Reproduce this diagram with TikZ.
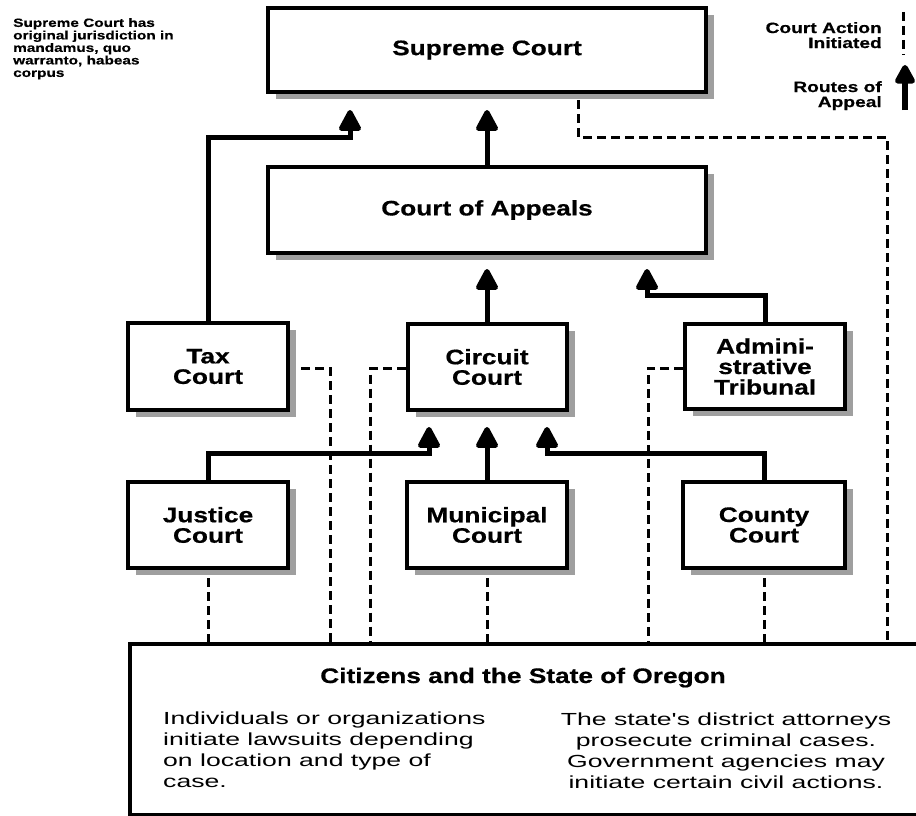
\documentclass[tikz,border=0pt]{standalone}
\usepackage{fontspec}
\setmainfont{Liberation Sans}
\newfontfamily\boxfam[FakeStretch=1.25,BoldFeatures={FakeBold=0.6}]{Liberation Sans}
\newfontfamily\notefam[FakeStretch=1.28,BoldFeatures={FakeBold=0.5}]{Liberation Sans}
\newfontfamily\bodyfam[FakeStretch=1.52]{Liberation Sans}
\usetikzlibrary{arrows.meta,shadows}
\tikzset{
  court/.style={draw, line width=4pt, fill=white, align=center, inner sep=0pt,
    font=\boxfam\bfseries\fontsize{21}{20.5}\selectfont,
    drop shadow={shadow xshift=8pt, shadow yshift=-7pt, fill=gray!75, opacity=1}},
  appeal/.style={line width=5pt, -{Triangle[width=24pt,length=24pt,round]}},
  initiated/.style={line width=3pt, dash pattern=on 9pt off 5pt},
  boxtext/.style={font=\boxfam\bfseries\fontsize{21}{20.5}\selectfont},
  bodytext/.style={inner sep=0pt, font=\bodyfam\fontsize{17.5}{21}\selectfont},
  notetext/.style={inner sep=0pt, font=\notefam\bfseries\fontsize{12}{12.5}\selectfont},
  legtext/.style={inner sep=0pt, align=right, font=\notefam\bfseries\fontsize{15}{15}\selectfont},
}
\begin{document}
\begin{tikzpicture}[x=1pt,y=-1pt]
\path[use as bounding box, fill=white] (0,0) rectangle (916,816);

% courts
\node[court, minimum width=438pt, minimum height=84pt] (sup) at (487,50) {Supreme Court};
\node[court, minimum width=438pt, minimum height=86pt] (coa) at (487,210) {Court of Appeals};
\node[court, minimum width=160pt, minimum height=87pt] (tax) at (208,366.5) {Tax\\Court};
\node[court, minimum width=159pt, minimum height=86pt] (cir) at (487,367) {Circuit\\Court};
\node[court, minimum width=160pt, minimum height=85pt] (adm) at (765,366.5) {Admini-\\strative\\Tribunal};
\node[court, minimum width=160pt, minimum height=86pt] (jus) at (208,525) {Justice\\Court};
\node[court, minimum width=160pt, minimum height=86pt] (mun) at (487,525) {Municipal\\Court};
\node[court, minimum width=162pt, minimum height=86pt] (cou) at (764,525) {County\\Court};

% citizens box
\node[draw, line width=4pt, fill=white, anchor=north west, minimum width=794pt, minimum height=171pt, inner sep=0pt] (cit) at (128,642) {};
\node[boxtext, anchor=base] (cittitle) at (523,683) {Citizens and the State of Oregon};
\node[bodytext, anchor=north west, align=left] (indiv) at (163,712)
  {Individuals or organizations\\initiate lawsuits depending\\on location and type of\\case.};
\node[bodytext, anchor=north, align=center] (state) at (726,713)
  {The state's district attorneys\\prosecute criminal cases.\\Government agencies may\\initiate certain civil actions.};

% routes of appeal
\coordinate (taxbend) at (350,137);
\draw[appeal, shorten >=16pt] (tax.north) |- (taxbend) -- (taxbend |- sup.south);
\draw[appeal, shorten >=16pt] (coa.north) -- (sup.south);
\draw[appeal, shorten >=14pt] (cir.north) -- (coa.south);
\coordinate (admbend) at (647,295);
\draw[appeal, shorten >=14pt] (adm.north) |- (admbend) -- (admbend |- coa.south);
\coordinate (jusbend) at (429,453);
\draw[appeal, shorten >=15pt] (jus.north) |- (jusbend) -- (jusbend |- cir.south);
\draw[appeal, shorten >=15pt] (mun.north) -- (cir.south);
\coordinate (coubend) at (547,453);
\draw[appeal, shorten >=15pt] (cou.north) |- (coubend) -- (coubend |- cir.south);

% court action initiated
\coordinate (supdash) at (578,137);
\coordinate (rightdash) at (887,137);
\draw[initiated] (supdash |- sup.south) ++(0,6) -- (supdash) -- (rightdash) -- (rightdash |- cit.north);
\coordinate (taxdash) at (330,368);
\draw[initiated, shorten <=11pt] (tax.east |- taxdash) -- (taxdash) -- (taxdash |- cit.north);
\coordinate (cirdash) at (370,368);
\draw[initiated] (cir.west |- cirdash) -- (cirdash) -- (cirdash |- cit.north);
\coordinate (admdash) at (648,368);
\draw[initiated] (adm.west |- admdash) -- (admdash) -- (admdash |- cit.north);
\draw[initiated, shorten <=8pt] (jus.south) -- (jus.south |- cit.north);
\draw[initiated, shorten <=8pt] (mun.south) -- (mun.south |- cit.north);
\draw[initiated, shorten <=8pt] (cou.south) -- (cou.south |- cit.north);

% note
\node[notetext, anchor=north west, align=left] (note) at (13,18)
  {Supreme Court has\\original jurisdiction in\\mandamus, quo\\warranto, habeas\\corpus};

% legend
\node[legtext, anchor=north east] (legini) at (882,22) {Court Action\\Initiated};
\node[legtext, anchor=north east] (legapp) at (882,81) {Routes of\\Appeal};
\coordinate (ldtop) at (903,12);
\coordinate (ldbot) at (903,55);
\draw[initiated] (ldtop) -- (ldbot);
\coordinate (latail) at (905,110);
\coordinate (lahead) at (905,65);
\draw[line width=5.5pt, -{Triangle[width=22pt,length=22pt,round]}] (latail) -- (lahead);
\end{tikzpicture}
\end{document}
